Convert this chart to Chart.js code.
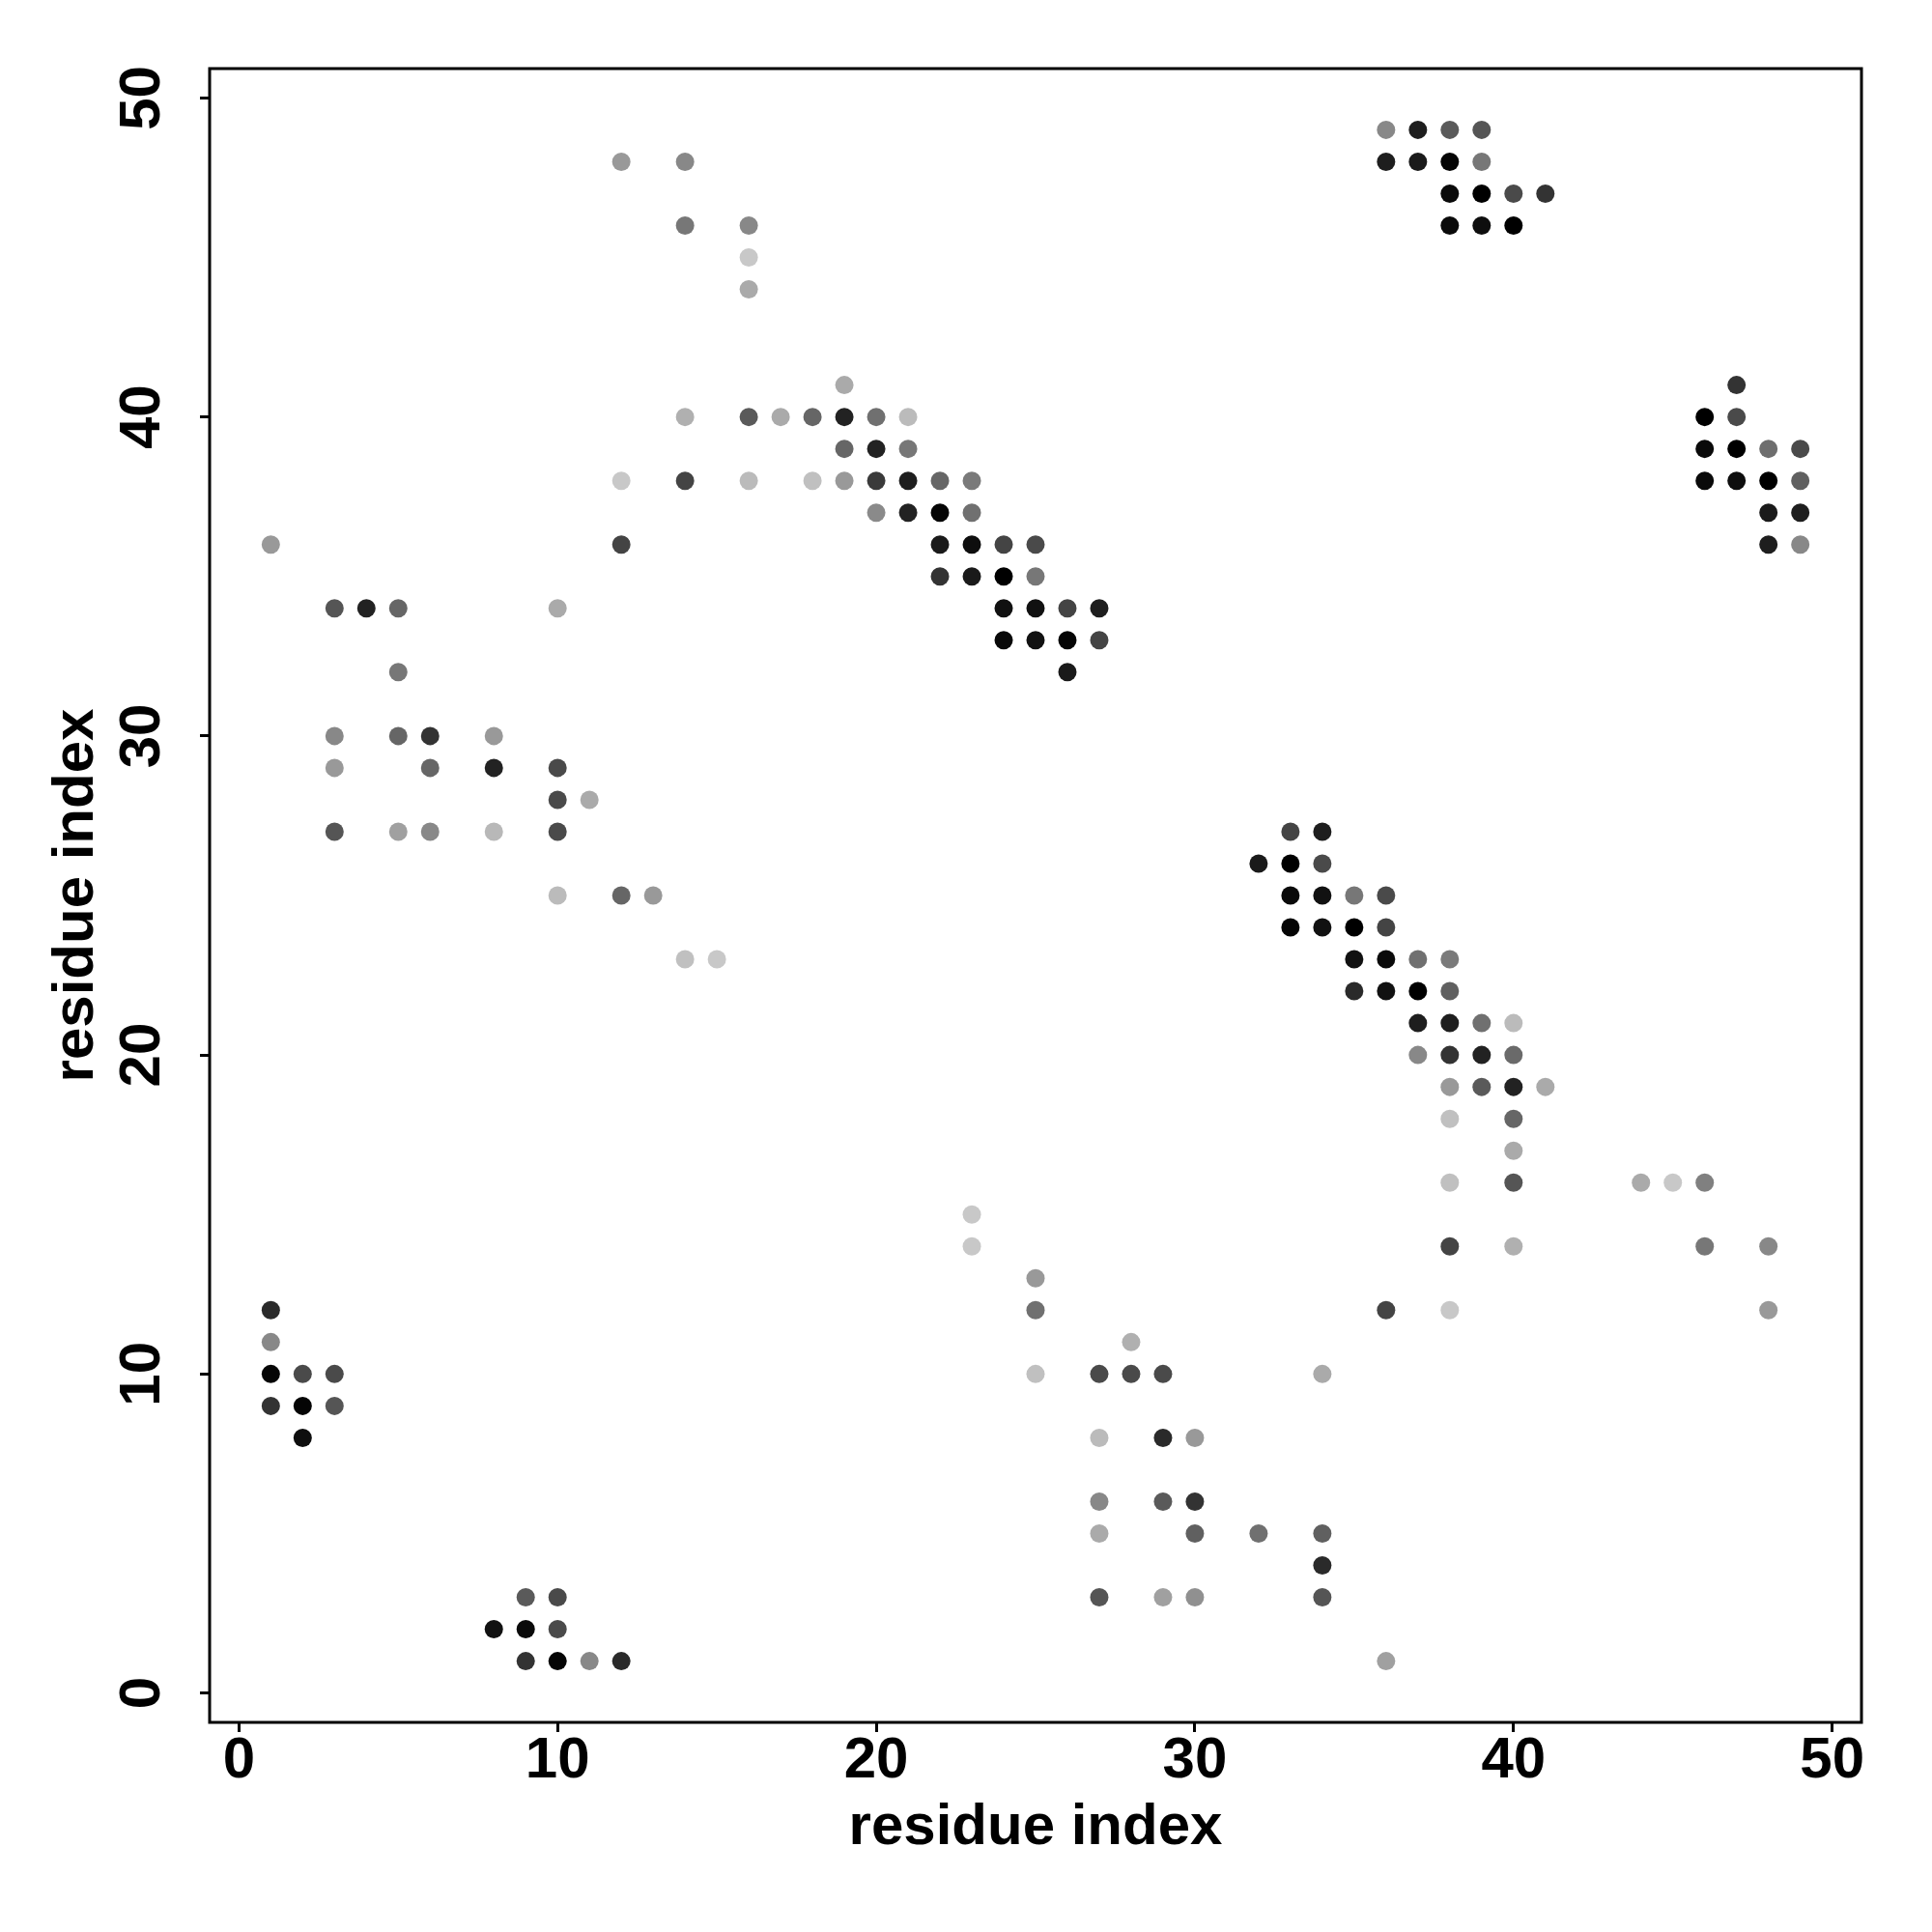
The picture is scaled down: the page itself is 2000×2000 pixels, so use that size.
<!DOCTYPE html>
<html><head><meta charset="utf-8">
<script src="https://cdn.jsdelivr.net/npm/chart.js@4.4.1/dist/chart.umd.min.js"></script>
<style>html,body{margin:0;padding:0;background:#fff}</style>
</head><body>
<canvas id="c" width="2000" height="2000"></canvas>
<script>
// residue i (x), residue j (y), grey shade (0 = black, 255 = white)
const xIdx = [
 12,14,14,16,16,16,19,14,16,17,18,19,20,21,19,20,21,12,14,16,18,19,20,21,22,23,20,21,22,23,
 1,12,22,23,24,25,22,23,24,25,3,4,5,10,24,25,26,27,24,25,26,27,26,5,3,5,6,8,3,6,8,10,10,11,
 3,5,6,8,10,10,12,13,14,15,
 33,34,32,33,34,33,34,35,36,33,34,35,36,35,36,37,38,35,36,37,38,37,38,39,40,37,38,39,40,
 38,39,40,41,38,40,40,38,40,44,45,46,38,40,46,48,36,38,48,
 36,37,38,39,36,37,38,39,38,39,40,41,38,39,40,47,46,47,46,47,48,49,46,47,48,49,48,49,48,49,
 1,1,1,2,3,1,2,3,2,9,10,8,9,10,9,10,11,12,
 23,23,25,25,28,25,27,28,29,27,29,30,27,29,30,27,30,32,27,29,30,34,34,34,34,36
];
const yIdx = [
 48,48,46,46,45,44,41,40,40,40,40,40,40,40,39,39,39,38,38,38,38,38,38,38,38,38,37,37,37,37,
 36,36,36,36,36,36,35,35,35,35,34,34,34,34,34,34,34,34,33,33,33,33,32,32,30,30,30,30,29,29,29,29,28,28,
 27,27,27,27,27,25,25,25,23,23,
 27,27,26,26,26,25,25,25,25,24,24,24,24,23,23,23,23,22,22,22,22,21,21,21,21,20,20,20,20,
 19,19,19,19,18,18,17,16,16,16,16,16,14,14,14,14,12,12,12,
 49,49,49,49,48,48,48,48,47,47,47,47,46,46,46,41,40,40,39,39,39,39,38,38,38,38,37,37,36,36,
 12,11,10,10,10,9,9,9,8,3,3,2,2,2,1,1,1,1,
 15,14,13,12,11,10,10,10,10,8,8,8,6,6,6,5,5,5,3,3,3,10,5,4,3,1
];
const shade = [
 0x99,0x88,0x77,0x88,0xc8,0xaa,0xaa,0xb0,0x5a,0xaa,0x66,0x22,0x70,0xbb,0x66,0x22,0x77,0xc8,0x44,0xbb,0xc0,0x99,0x3a,0x1e,0x66,0x7a,0x8a,0x22,0x05,0x70,
 0x99,0x44,0x1a,0x0e,0x44,0x4a,0x33,0x1a,0x00,0x77,0x55,0x22,0x66,0xaa,0x11,0x11,0x44,0x1e,0x08,0x11,0x05,0x44,0x1a,0x77,0x88,0x66,0x33,0x99,0x99,0x66,0x22,0x4a,0x4a,0xaa,
 0x55,0xa0,0x88,0xb8,0x4a,0xbb,0x66,0x99,0xc0,0xc8,
 0x44,0x1e,0x1a,0x00,0x4a,0x0a,0x11,0x77,0x4a,0x05,0x11,0x00,0x44,0x11,0x0a,0x70,0x7a,0x2a,0x11,0x00,0x60,0x1e,0x1e,0x70,0xbb,0x88,0x33,0x22,0x6a,
 0x99,0x5a,0x22,0xaa,0xc0,0x66,0xaa,0xc0,0x55,0xaa,0xc8,0x80,0x44,0xb0,0x77,0x88,0x44,0xc8,0x99,
 0x88,0x1e,0x5a,0x55,0x1e,0x1a,0x05,0x77,0x0a,0x00,0x4a,0x33,0x0a,0x0e,0x00,0x33,0x00,0x4a,0x0a,0x00,0x6e,0x4a,0x0a,0x0e,0x00,0x60,0x1a,0x1e,0x1e,0x88,
 0x2a,0x88,0x05,0x4a,0x4a,0x33,0x05,0x55,0x0e,0x5a,0x4a,0x11,0x0a,0x4a,0x33,0x05,0x88,0x2a,
 0xc8,0xc8,0x99,0x70,0xb0,0xc0,0x4a,0x4a,0x4a,0xbb,0x2a,0x99,0x88,0x5a,0x33,0xaa,0x60,0x70,0x55,0xa0,0x90,0xaa,0x60,0x2a,0x55,0xa0
];
const tickValues = [0, 10, 20, 30, 40, 50];
const xTitle = 'residue index';
const yTitle = 'residue index';

const points = xIdx.map((x, i) => ({x: x, y: yIdx[i]}));
const colors = shade.map(g => `rgb(${g},${g},${g})`);

const boxPlugin = {
  id: 'box',
  afterDraw(chart) {
    const a = chart.chartArea, ctx = chart.ctx;
    ctx.save();
    ctx.strokeStyle = '#000';
    ctx.lineWidth = 3;
    ctx.strokeRect(a.left, a.top, a.right - a.left, a.bottom - a.top);
    ctx.restore();
  }
};

const tickFont = {family: "'Liberation Sans', Arial, sans-serif", size: 60, weight: 'bold', lineHeight: 1};
const titleFont = {family: "'Liberation Sans', Arial, sans-serif", size: 60, weight: 'bold', lineHeight: 1.2};

new Chart(document.getElementById('c'), {
  type: 'scatter',
  data: {datasets: [{
    data: points,
    pointBackgroundColor: colors,
    pointBorderWidth: 0,
    pointBorderColor: colors,
    pointRadius: 9.5,
    pointHoverRadius: 9.5
  }]},
  options: {
    responsive: false,
    animation: false,
    devicePixelRatio: 1,
    layout: {padding: {top: 71, right: 73, left: 0, bottom: 0}},
    plugins: {legend: {display: false}, tooltip: {enabled: false}},
    scales: {
      x: {
        type: 'linear', min: -0.92, max: 50.92,
        afterBuildTicks: s => { s.ticks = tickValues.map(v => ({value: v})); },
        afterFit: s => { s.height = 217; },
        border: {display: false},
        grid: {drawOnChartArea: false, drawTicks: true, tickLength: 10, color: '#000', tickWidth: 3, tickColor: '#000'},
        ticks: {color: '#000', font: tickFont, padding: 0, maxRotation: 0, minRotation: 0, autoSkip: false},
        title: {display: true, text: xTitle, color: '#000', font: titleFont, padding: {top: 0, bottom: 72}}
      },
      y: {
        type: 'linear', min: -0.92, max: 50.92,
        afterBuildTicks: s => { s.ticks = tickValues.map(v => ({value: v})); },
        afterFit: s => { s.width = 217; },
        border: {display: false},
        grid: {drawOnChartArea: false, drawTicks: true, tickLength: 10, color: '#000', tickWidth: 3, tickColor: '#000'},
        ticks: {color: '#000', font: tickFont, padding: 25, minRotation: 90, maxRotation: 90, crossAlign: 'center', autoSkip: false},
        title: {display: true, text: yTitle, color: '#000', font: titleFont, padding: {top: 43, bottom: 0}}
      }
    }
  },
  plugins: [boxPlugin]
});
</script>
</body></html>
